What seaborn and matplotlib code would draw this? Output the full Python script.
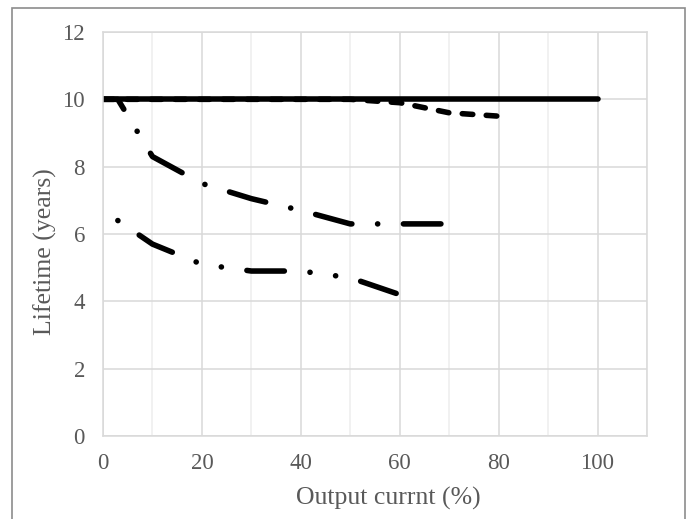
import matplotlib
matplotlib.use("Agg")
import matplotlib.pyplot as plt
import seaborn as sns
from matplotlib.patches import Rectangle
from matplotlib.ticker import MultipleLocator

# ---- data ----
x_solid = [0, 10, 20, 30, 40, 50, 60, 70, 80, 90, 100]
y_solid = [10, 10, 10, 10, 10, 10, 10, 10, 10, 10, 10]

x_dash = [0, 10, 20, 30, 40, 50, 60, 70, 80]
y_dash = [10, 10, 10, 10, 10, 10, 9.9, 9.6, 9.5]

x_dashdot = [0, 3, 10, 20, 30, 40, 50, 60, 70]
y_dashdot = [10, 10, 8.3, 7.5, 7.05, 6.7, 6.3, 6.3, 6.3]

x_dashdotdot = [3, 10, 20, 30, 40, 50, 60]
y_dashdotdot = [6.4, 5.7, 5.1, 4.9, 4.9, 4.7, 4.2]

x_ticks = [0, 20, 40, 60, 80, 100]
y_ticks = [0, 2, 4, 6, 8, 10, 12]
x_label = "Output currnt (%)"
y_label = "Lifetime (years)"

# ---- style ----
sns.set_theme(style="white")
plt.rcParams['font.family'] = ['Liberation Serif', 'DejaVu Serif']
plt.rcParams['lines.scale_dashes'] = False

W, H = 686, 519
fig = plt.figure(figsize=(W / 100, H / 100), dpi=100)
ax = fig.add_axes([103 / W, 1 - 436 / H, (647 - 103) / W, (436 - 32) / H])

LW = 4.0
TXT = '#595959'

# series drawn through seaborn
sns.lineplot(x=x_dash, y=y_dash, ax=ax, color='black', linewidth=LW,
             sort=False, estimator=None)
ln = ax.lines[-1]
ln.set_linestyle((0, (7.6, 9.7)))
ln.set_dash_capstyle('round')

sns.lineplot(x=x_dashdot, y=y_dashdot, ax=ax, color='black', linewidth=LW,
             sort=False, estimator=None)
ln = ax.lines[-1]
ln.set_linestyle((8.0, (27, 18.5, 0.1, 18.5)))
ln.set_dash_capstyle('round')

sns.lineplot(x=x_dashdotdot, y=y_dashdotdot, ax=ax, color='black', linewidth=LW,
             sort=False, estimator=None)
ln = ax.lines[-1]
ln.set_linestyle((64.1, (27, 18.5, 0.1, 18.5, 0.1, 18.5)))
ln.set_dash_capstyle('round')

sns.lineplot(x=x_solid, y=y_solid, ax=ax, color='black', linewidth=LW,
             sort=False, estimator=None)
ln = ax.lines[-1]
ln.set_solid_capstyle('round')

# ---- axes ----
ax.set_xlim(0, 110)
ax.set_ylim(0, 12)
ax.set_xticks(x_ticks)
ax.set_yticks(y_ticks)
ax.xaxis.set_minor_locator(MultipleLocator(10))
ax.set_axisbelow(True)
ax.grid(which='major', axis='both', color='#d9d9d9', linewidth=1.1)
ax.grid(which='minor', axis='x', color='#eeeeee', linewidth=1.1)
for s in ax.spines.values():
    s.set_color('#d9d9d9')
    s.set_linewidth(1.1)
ax.tick_params(axis='both', which='both', length=0, labelsize=16.5,
               labelcolor=TXT)
ax.tick_params(axis='x', pad=12)
ax.tick_params(axis='y', pad=13)

ax.set_xlabel(x_label, fontsize=18.5, color=TXT, va='center')
ax.set_ylabel(y_label, fontsize=18.5, color=TXT, va='center')
ax.xaxis.set_label_coords((388 - 103) / 544, (436 - 498) / 404)
ax.yaxis.set_label_coords((45 - 103) / 544, (436 - 252) / 404)

# outer chart frame
fig.add_artist(Rectangle((12 / W, -0.05), (685 - 12) / W, 1 - 8 / H + 0.05,
                         transform=fig.transFigure, fill=False,
                         edgecolor='#8c8c8c', linewidth=1.2))

fig.savefig('out.png', dpi=100)
